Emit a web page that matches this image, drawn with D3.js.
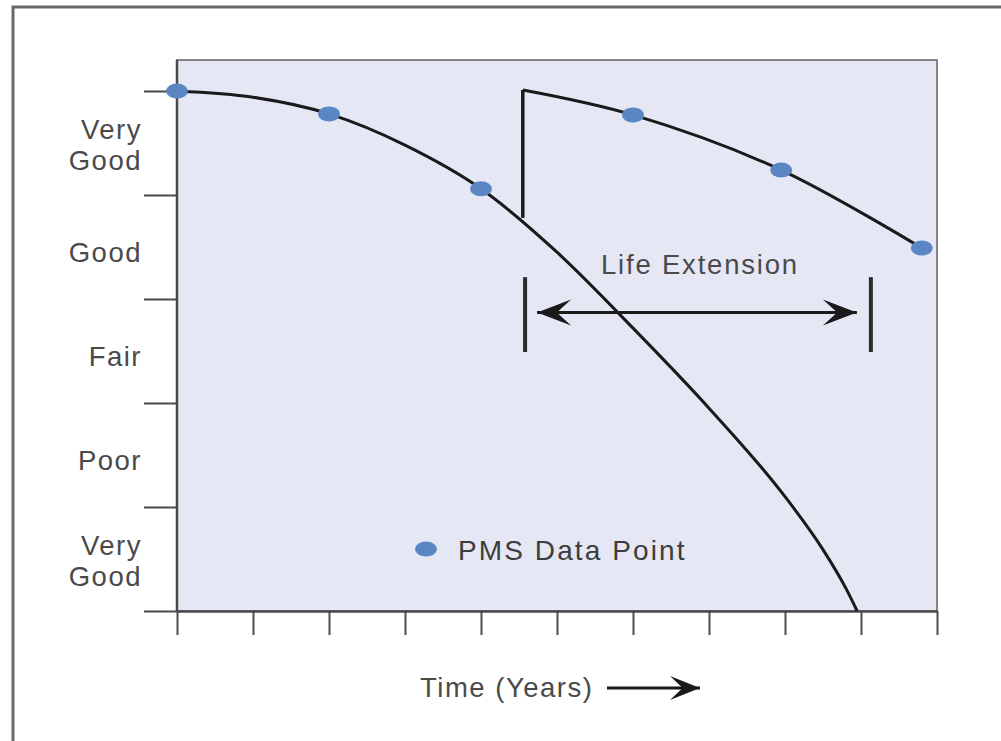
<!DOCTYPE html>
<html>
<head>
<meta charset="utf-8">
<script src="https://d3js.org/d3.v7.min.js"></script>
<style>
  body { margin: 0; background: #fff; }
  svg text { font-family: "Liberation Sans", Arial, sans-serif; fill: #4a4a4a; letter-spacing: 1.5px; }
</style>
</head>
<body>
<svg width="1001" height="741"></svg>
<script>
  // condition labels, top to bottom
  var categories = ["Very Good", "Good", "Fair", "Poor", "Very Good"];
  var yTicks = [0, 1, 2, 3, 4, 5];
  var xTicks = [0, 1, 2, 3, 4, 5, 6, 7, 8, 9, 10];

  // deterioration curve without treatment [time, condition]
  var baseCurve = [[0, 5.0], [1, 4.94], [2, 4.78], [3, 4.48], [4, 4.06], [5, 3.45], [6, 2.72],
    [7, 1.95], [8, 1.1], [8.5, 0.59], [8.8, 0.22], [8.95, 0]];
  // curve after treatment
  var treatedCurve = [[4.55, 5.01], [6, 4.77], [7.95, 4.24], [9.8, 3.49]];
  var jump = [[4.55, 3.78], [4.55, 5.01]];
  var pmsPoints = [[0, 5], [2, 4.78], [4, 4.06], [6, 4.77], [7.95, 4.24], [9.8, 3.49]];
  // life extension span
  var lifeExt = { from: 4.58, to: 9.13, level: 2.87, barTop: 3.21, barBottom: 2.49 };

  var svg = d3.select("svg");
  var margin = { left: 177, top: 60 };
  var width = 760, height = 551;

  // outer frame (only top and left edges show)
  svg.append("path")
    .attr("d", "M13,741 L13,7 L1001,7")
    .attr("fill", "none")
    .attr("stroke", "#6a6a6a")
    .attr("stroke-width", 3);

  var g = svg.append("g")
    .attr("transform", "translate(" + margin.left + "," + margin.top + ")");

  var x = d3.scaleLinear().domain([0, 10]).range([0, width]);
  var y = d3.scaleLinear().domain([0, 5]).range([height, 31]);
  var band = d3.scaleBand().domain(d3.range(categories.length)).range([31, height]);

  g.append("rect")
    .attr("width", width)
    .attr("height", height)
    .attr("fill", "#e5e8f4")
    .attr("stroke", "#858585")
    .attr("stroke-width", 2);

  var defs = svg.append("defs");
  function arrowMarker(id, len, half) {
    defs.append("marker")
      .attr("id", id)
      .attr("markerUnits", "userSpaceOnUse")
      .attr("viewBox", (-len - 2) + " " + (-half - 2) + " " + (len + 4) + " " + (half * 2 + 4))
      .attr("markerWidth", len + 4)
      .attr("markerHeight", half * 2 + 4)
      .attr("refX", 0)
      .attr("refY", 0)
      .attr("orient", "auto-start-reverse")
      .append("path")
      .attr("d", "M0,0 L" + (-len) + "," + (-half) + " L" + (-len * 0.58) + ",0 L" + (-len) + "," + half + " Z")
      .attr("fill", "#1a1a1a");
  }
  arrowMarker("stealth", 34, 13);
  arrowMarker("stealthSmall", 30, 12);

  // axes
  var yAxis = g.append("g")
    .call(d3.axisLeft(y).tickValues(yTicks).tickSize(33).tickSizeOuter(0).tickFormat(""));
  var xAxis = g.append("g")
    .attr("transform", "translate(0," + height + ")")
    .call(d3.axisBottom(x).tickValues(xTicks).tickSize(24).tickSizeOuter(0).tickFormat(""));
  svg.selectAll(".domain").attr("stroke", "#4a4a4a").attr("stroke-width", 2.5);
  svg.selectAll(".tick line").attr("stroke", "#4a4a4a").attr("stroke-width", 2);
  yAxis.select(".domain").attr("d", "M0,0V" + height);

  // category labels
  var labels = g.selectAll(".cat")
    .data(categories)
    .enter()
    .append("text")
    .attr("class", "cat")
    .attr("text-anchor", "end")
    .attr("font-size", 27.5)
    .attr("transform", function(d, i) {
      return "translate(-35," + (band(i) + band.bandwidth() / 2) + ")";
    });
  labels.each(function(d) {
    var words = d.split(" ");
    var t = d3.select(this);
    words.forEach(function(w, j) {
      t.append("tspan")
        .attr("x", 0)
        .attr("y", (j - (words.length - 1) / 2) * 31 + (words.length > 1 ? 11 : 15))
        .text(w);
    });
  });

  var line = d3.line()
    .x(function(d) { return x(d[0]); })
    .y(function(d) { return y(d[1]); })
    .curve(d3.curveMonotoneX);

  g.append("path")
    .attr("d", line(baseCurve))
    .attr("fill", "none")
    .attr("stroke", "#1a1a1a")
    .attr("stroke-width", 3);

  g.append("path")
    .attr("d", d3.line().x(function(d) { return x(d[0]); }).y(function(d) { return y(d[1]); })(jump))
    .attr("fill", "none")
    .attr("stroke", "#1a1a1a")
    .attr("stroke-width", 3.5);

  g.append("path")
    .attr("d", line.curve(d3.curveCatmullRom.alpha(0.5))(treatedCurve))
    .attr("fill", "none")
    .attr("stroke", "#1a1a1a")
    .attr("stroke-width", 3);

  g.selectAll(".pms")
    .data(pmsPoints)
    .enter()
    .append("ellipse")
    .attr("class", "pms")
    .attr("cx", function(d) { return x(d[0]); })
    .attr("cy", function(d) { return y(d[1]); })
    .attr("rx", 11)
    .attr("ry", 7.5)
    .attr("fill", "#5a87c4");

  // life extension bracket
  g.selectAll(".bar")
    .data([lifeExt.from, lifeExt.to])
    .enter()
    .append("line")
    .attr("x1", function(d) { return x(d); })
    .attr("x2", function(d) { return x(d); })
    .attr("y1", y(lifeExt.barTop))
    .attr("y2", y(lifeExt.barBottom))
    .attr("stroke", "#2a2a2a")
    .attr("stroke-width", 4);

  g.append("line")
    .attr("x1", x(lifeExt.from) + 12)
    .attr("x2", x(lifeExt.to) - 14)
    .attr("y1", y(lifeExt.level))
    .attr("y2", y(lifeExt.level))
    .attr("stroke", "#1a1a1a")
    .attr("stroke-width", 3)
    .attr("marker-start", "url(#stealth)")
    .attr("marker-end", "url(#stealth)");

  g.append("text")
    .attr("x", (x(lifeExt.from) + x(lifeExt.to)) / 2 + 2)
    .attr("y", y(lifeExt.barTop) - 3)
    .attr("text-anchor", "middle")
    .attr("font-size", 27.5)
    .style("letter-spacing", "1.8px")
    .text("Life Extension");

  // legend
  svg.append("ellipse")
    .attr("cx", 426)
    .attr("cy", 549)
    .attr("rx", 11)
    .attr("ry", 7.5)
    .attr("fill", "#5a87c4");
  svg.append("text")
    .attr("x", 458)
    .attr("y", 560)
    .attr("font-size", 28)
    .style("fill", "#3d3d3d")
    .style("letter-spacing", "2.1px")
    .text("PMS Data Point");

  // x axis title with arrow
  svg.append("text")
    .attr("x", 420)
    .attr("y", 697)
    .attr("font-size", 27.5)
    .text("Time (Years)");
  svg.append("line")
    .attr("x1", 607)
    .attr("x2", 700)
    .attr("y1", 688)
    .attr("y2", 688)
    .attr("stroke", "#1a1a1a")
    .attr("stroke-width", 3)
    .attr("marker-end", "url(#stealthSmall)");
</script>
</body>
</html>
